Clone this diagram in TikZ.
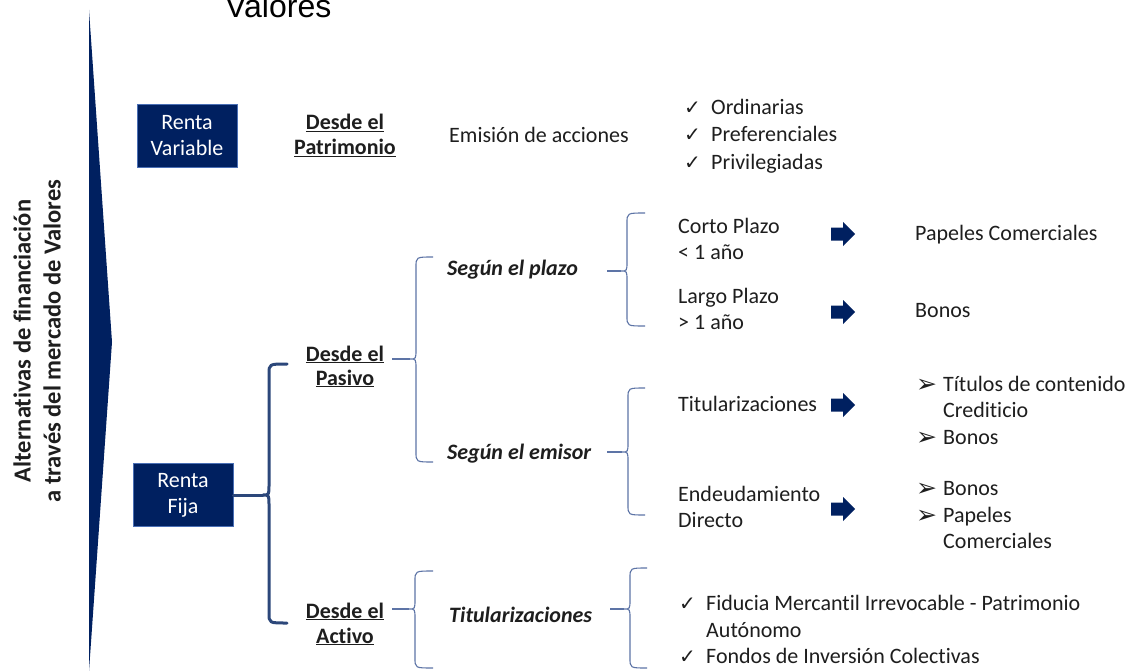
\documentclass[tikz,border=0pt]{standalone}
\usepackage{fontspec}
\setmainfont{Carlito}[Ligatures=CommonOff]
\newfontfamily\titlefont{Liberation Sans}
\newfontfamily\symfont{DejaVu Sans}
\definecolor{navy}{HTML}{002060}
\definecolor{boxedge}{HTML}{4A6FB5}
\definecolor{bracedark}{HTML}{2C477A}
\definecolor{bracethin}{HTML}{5D74A6}
\definecolor{txt}{HTML}{1E1E1E}
\tikzset{
  txtline/.style={font=\fontsize{22}{26}\selectfont, text=txt, inner sep=0pt, anchor=base west},
  headline/.style={font=\fontsize{22}{26}\selectfont\bfseries, text=txt, inner sep=0pt, anchor=base},
  catline/.style={font=\fontsize{22}{26}\selectfont\bfseries\itshape, text=txt, inner sep=0pt, anchor=base west},
  chk/.style={font=\symfont\fontsize{20}{24}\selectfont, text=txt, inner sep=0pt, anchor=base west},
  pointer/.style={font=\symfont\fontsize{25}{28}\selectfont, text=txt, inner sep=0pt, anchor=base west},
  rbox/.style={draw=boxedge, line width=0.8pt, fill=navy, text=white, minimum width=100pt, minimum height=63pt, align=center, inner sep=0pt, font=\fontsize{22}{26}\selectfont},
  thinbrace/.style={draw=bracethin, line width=1.1pt},
  thickbrace/.style={draw=bracedark, line width=3pt, line cap=round, line join=round},
  blockarrow/.style={fill=navy}
}
% #1 style, #2 x of vertical, #3 top y, #4 bottom y, #5 mid y, #6 hook x, #7 tip x, #8 radius
\newcommand\drawbrace[8]{%
  \draw[#1] (#6,#3) .. controls ({#2},{#3}) .. ({#2},{#3+#8}) -- ({#2},{#5-#8})
     .. controls ({#2},{#5}) .. (#7,#5) .. controls ({#2},{#5}) .. ({#2},{#5+#8})
     -- ({#2},{#4-#8}) .. controls ({#2},{#4}) .. (#6,#4);}
% block arrow centred vertically at y, left end at 831
\newcommand\barrow[2]{%
  \fill[blockarrow] (831,{#2-6.5}) -- (843,{#2-6.5}) -- (843,{#2-12}) -- (855,#2)
     -- (843,{#2+12}) -- (843,{#2+6.5}) -- (831,{#2+6.5}) -- cycle;
  \coordinate (#1) at (843,#2);}
\begin{document}
\begin{tikzpicture}[x=1pt,y=-1pt]
\useasboundingbox (0,0) rectangle (1139,671);
\fill[white] (0,0) rectangle (1139,671);

% title fragment
\node[anchor=base west, inner sep=0pt, font=\titlefont\fontsize{32}{36}\selectfont] (valores) at (225,18) {Valores};

% big wedge
\fill[navy] (89,10) -- (112,342) -- (89,671) -- cycle;
\node[rotate=90, align=center, inner sep=0pt, text=txt, font=\fontsize{24.5}{30}\selectfont\bfseries] (maintitle) at (37,341)
  {Alternativas de financiación\\a través del mercado de Valores};

% boxes
\node[rbox] (rv) at (187,135.5) {Renta\\Variable};
\node[rbox] (rf) at (183,495) {Renta\\Fija};

% Renta variable row
\node[headline] (pat1) at (345,130) {\underline{Desde el}};
\node[headline] (pat2) at (345,155) {\underline{Patrimonio}};
\node[txtline] (emision) at (449,143) {Emisión de acciones};
\node[chk] (c1) at (684,115) {✓};
\node[txtline] (ord) at (711,115) {Ordinarias};
\node[chk] (c2) at (684,142) {✓};
\node[txtline] (pref) at (711,142) {Preferenciales};
\node[chk] (c3) at (684,169) {✓};
\node[txtline] (priv) at (711,169) {Privilegiadas};

% thick brace from Renta Fija
\coordinate (rftip) at (263,495);
\drawbrace{thickbrace}{269}{364}{623}{495}{287}{263}{10}
\draw[thickbrace] (rf.east) -- (rftip);

% Desde el Pasivo
\node[headline] (pas1) at (345,361) {\underline{Desde el}};
\node[headline] (pas2) at (345,385) {\underline{Pasivo}};
\coordinate (b1tip) at (410,359);
\drawbrace{thinbrace}{416}{257}{462}{359}{433}{410}{10}
\draw[thinbrace] ([xshift=8pt]pas1.east |- b1tip) -- (b1tip);

\node[catline] (plazo) at (447,275) {Según el plazo};
\node[catline] (emisor) at (447,459) {Según el emisor};

% brace plazo
\coordinate (b2tip) at (621,271);
\drawbrace{thinbrace}{627}{213}{326}{271}{645}{621}{10}
\draw[thinbrace] ([xshift=29pt]plazo.east |- b2tip) -- (b2tip);

\node[txtline] (corto1) at (678,233) {Corto Plazo};
\node[txtline] (corto2) at (678,259) {< 1 año};
\node[txtline] (largo1) at (678,303) {Largo Plazo};
\node[txtline] (largo2) at (678,329) {> 1 año};
\barrow{a1}{234}
\barrow{a2}{312}
\node[txtline] (papeles) at (915,240) {Papeles Comerciales};
\node[txtline] (bonos) at (915,317) {Bonos};

% brace emisor
\coordinate (b3tip) at (622,452);
\drawbrace{thinbrace}{628}{388}{515}{452}{645}{622}{10}
\draw[thinbrace] ([xshift=16pt]emisor.east |- b3tip) -- (b3tip);

\node[txtline] (titu) at (678,411) {Titularizaciones};
\node[txtline] (end1) at (678,501) {Endeudamiento};
\node[txtline] (end2) at (678,527) {Directo};
\barrow{a3}{405}
\barrow{a4}{509}
\node[pointer] (d1) at (916,392) {➢};
\node[txtline] (tit1) at (943,391) {Títulos de contenido};
\node[txtline] (tit2) at (943,417) {Crediticio};
\node[pointer] (d2) at (916,445) {➢};
\node[txtline] (tit3) at (943,444) {Bonos};
\node[pointer] (d3) at (916,496) {➢};
\node[txtline] (en1) at (943,495) {Bonos};
\node[pointer] (d4) at (916,523) {➢};
\node[txtline] (en2) at (943,522) {Papeles};
\node[txtline] (en3) at (943,548) {Comerciales};

% Desde el Activo
\node[headline] (act1) at (345,618) {\underline{Desde el}};
\node[headline] (act2) at (345,643) {\underline{Activo}};
\coordinate (b4tip) at (409,609);
\drawbrace{thinbrace}{415}{571}{668}{609}{433}{409}{10}
\draw[thinbrace] ([xshift=8pt]act1.east |- b4tip) -- (b4tip);

\node[catline] (titact) at (449,622) {Titularizaciones};
\coordinate (b5tip) at (624,609);
\drawbrace{thinbrace}{630}{568}{668}{609}{647}{624}{10}
\draw[thinbrace] ([xshift=18pt]titact.east |- b5tip) -- (b5tip);

\node[chk] (e1) at (679,610) {✓};
\node[txtline] (fid1) at (706,610) {Fiducia Mercantil Irrevocable - Patrimonio};
\node[txtline] (fid2) at (706,637) {Autónomo};
\node[chk] (e2) at (679,663) {✓};
\node[txtline] (fon) at (706,663) {Fondos de Inversión Colectivas};
\end{tikzpicture}
\end{document}
